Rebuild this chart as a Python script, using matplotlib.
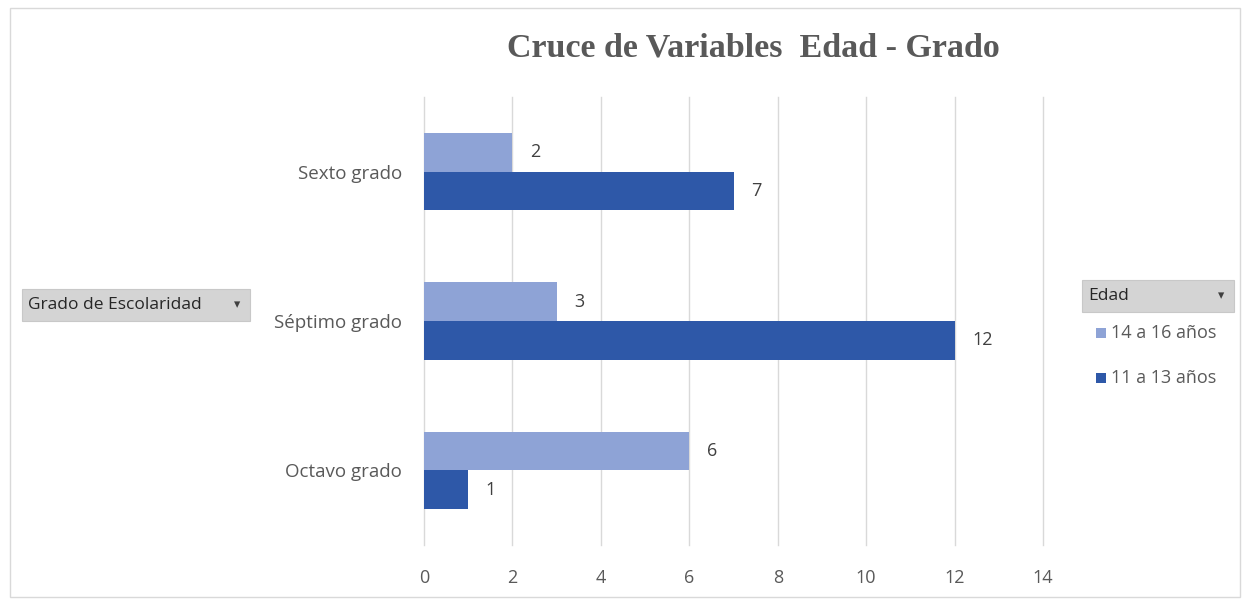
import matplotlib
matplotlib.use('Agg')
import matplotlib.pyplot as plt
from matplotlib.patches import Rectangle
import numpy as np

# Data
categorias = ["Sexto grado", "Séptimo grado", "Octavo grado"]
serie_14_16 = [2, 3, 6]
serie_11_13 = [7, 12, 1]
series_labels = ["14 a 16 años", "11 a 13 años"]
xticks = [0, 2, 4, 6, 8, 10, 12, 14]

LIGHT = '#8EA3D6'
DARK = '#2E58A8'
TXT = '#595959'
GRID = '#D9D9D9'
FONT = 'Open Sans'

W, H = 1244, 599
fig = plt.figure(figsize=(W / 100, H / 100), dpi=100)

# outer border
fig.patches.append(Rectangle((10 / W, 2 / H), 1230 / W, 589 / H,
                             transform=fig.transFigure, fill=False,
                             edgecolor='#D9D9D9', lw=1))

ax = fig.add_axes([424 / W, 54 / H, 619 / W, 448 / H])
y = np.arange(len(categorias))
h = 0.26
ax.barh(y - h / 2, serie_14_16, height=h, color=LIGHT, zorder=2)
ax.barh(y + h / 2, serie_11_13, height=h, color=DARK, zorder=2)
for yi, v in zip(y - h / 2, serie_14_16):
    ax.text(v + 0.4, yi, str(v), va='center', ha='left', fontsize=13,
            color='#404040', family=FONT)
for yi, v in zip(y + h / 2, serie_11_13):
    ax.text(v + 0.4, yi, str(v), va='center', ha='left', fontsize=13,
            color='#404040', family=FONT)

ax.set_xlim(0, 14)
ax.set_ylim(len(categorias) - 0.5, -0.5)
ax.set_xticks(xticks)
ax.set_xticklabels([str(t) for t in xticks], fontsize=13, color=TXT,
                   family=FONT)
ax.set_yticks(y)
ax.set_yticklabels(categorias, fontsize=13.5, color=TXT, family=FONT)
ax.tick_params(axis='x', length=0, pad=17)
ax.tick_params(axis='y', length=0, pad=16)
ax.grid(axis='x', color=GRID, lw=1, zorder=0)
for gl in ax.get_xgridlines():
    gl.set_clip_on(False)
for s in ax.spines.values():
    s.set_visible(False)

fig.text(753 / W, 1 - 48 / H, "Cruce de Variables  Edad - Grado",
         ha='center', va='center', fontsize=24.5, fontweight='bold',
         color=TXT, family='Liberation Serif')

# pivot field buttons
def button(x0, y0, w, hgt, label):
    fig.patches.append(Rectangle((x0 / W, 1 - (y0 + hgt) / H), w / W, hgt / H,
                                 transform=fig.transFigure,
                                 facecolor='#D4D4D4', edgecolor='#C8C8C8',
                                 lw=0.8))
    fig.text((x0 + 6) / W, 1 - (y0 + hgt / 2) / H, label, ha='left',
             va='center', fontsize=12.5, color='#262626', family=FONT)
    fig.text((x0 + w - 13) / W, 1 - (y0 + hgt / 2) / H, '\u25BE',
             ha='center', va='center', fontsize=9, color='#404040',
             family='DejaVu Sans')

button(22, 289, 228, 32, "Grado de Escolaridad")
button(1082, 280, 152, 32, "Edad")

# legend entries
for lab, col, yy in zip(series_labels, [LIGHT, DARK], [333, 378]):
    fig.patches.append(Rectangle((1096 / W, 1 - (yy + 5) / H), 10 / W, 10 / H,
                                 transform=fig.transFigure, facecolor=col,
                                 edgecolor='none'))
    fig.text(1111 / W, 1 - yy / H, lab, ha='left', va='center',
             fontsize=13, color=TXT, family=FONT)

fig.savefig('out.png', dpi=100)
